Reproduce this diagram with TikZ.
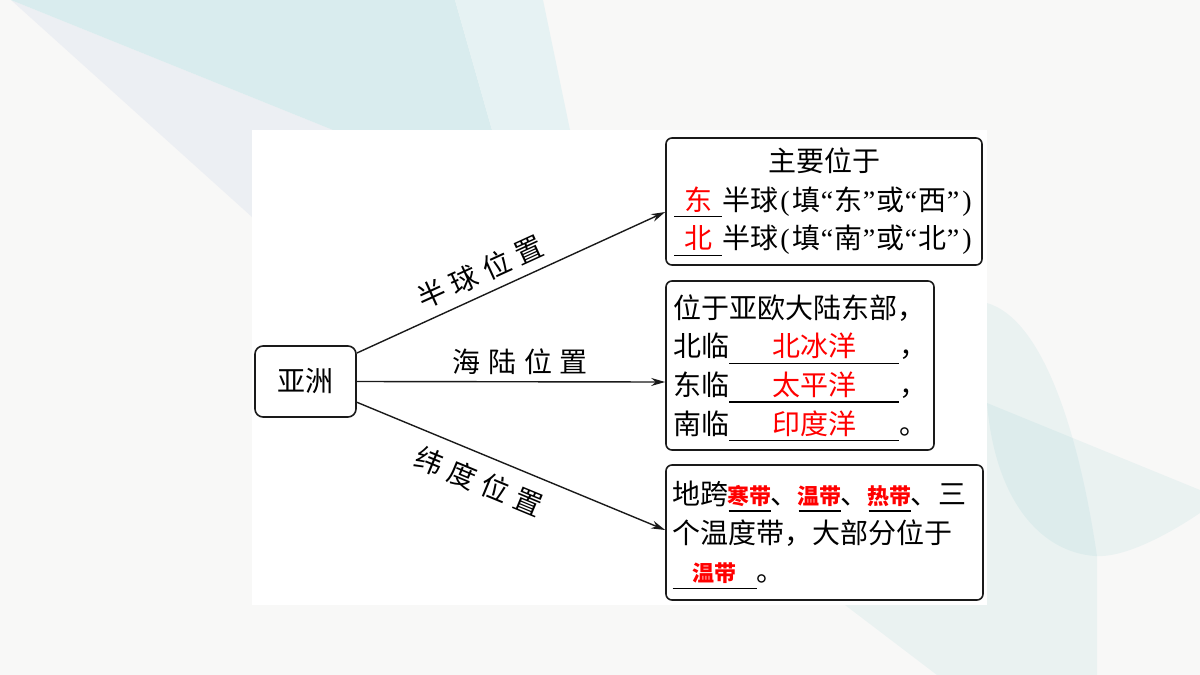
\documentclass[tikz,border=0pt]{standalone}
\usepackage{fontspec}
\setmainfont{Noto Sans CJK SC}
\newfontfamily\lat{Liberation Serif}
\usetikzlibrary{arrows.meta,calc}

\definecolor{bgbase}{HTML}{F8F8F7}
\definecolor{bgteal}{HTML}{D9ECEE}
\definecolor{bglight}{HTML}{E6F2F3}
\definecolor{bglav}{HTML}{ECEFF3}
\definecolor{seafoam}{RGB}{95,184,190}
\definecolor{ink}{HTML}{1A1A1A}

% blank with red answer
\newcommand\fillin[2]{\leavevmode\rlap{\raisebox{-3.5pt}[0pt][0pt]{\rule{#1}{0.6pt}}}\makebox[#1]{\color{red}#2}}
\newcommand\nar[1]{\makebox[7pt]{\lat #1}}
\newcommand\smallred{\bfseries\fontsize{11}{11}\selectfont}
\newcommand\gap{\hspace{3.8pt}}

\begin{document}
\begin{tikzpicture}[x=0.5pt,y=-0.5pt,
    font=\fontsize{14}{19.3}\selectfont,
    box/.style={draw=ink,line width=0.8pt,rounded corners=3pt,inner sep=0pt},
    arr/.style={draw=ink,line width=0.7pt,-{Stealth[length=7pt,width=4pt]}}]
        \useasboundingbox (0,0) rectangle (1200,675);

        % Background
        \fill[bgbase] (0,0) rectangle (1200,675);
        \fill[bglav] (11,0) -- (252,217) -- (252,130) -- (333,130) -- cycle;
        \fill[bgteal] (11,0) -- (333,130) -- (492,130) -- (455,0) -- cycle;
        \fill[bglight] (455,0) -- (492,130) -- (570,130) -- (543,0) -- cycle;
        \fill[seafoam,opacity=0.09] (987,303) .. controls (1045,320) and (1080,440) .. (1097,556)
            -- (1097,675) -- (937,675) -- (845,605) -- (987,605) -- cycle;
        \fill[seafoam,opacity=0.09] (987,403) -- (1200,490) -- (1200,513)
            .. controls (1160,540) and (1120,558) .. (1095,556)
            .. controls (1040,552) and (995,500) .. (987,403) -- cycle;

        % Panel
        \fill[white] (252,130) rectangle (987,605);

        % Boxes
        \node[box,minimum width=50.5pt,minimum height=35.5pt,rounded corners=4pt] (asia) at (305.5,381.5) {亚洲};

        \node[box,minimum width=158pt,minimum height=63.5pt,text width=152pt,align=center] (hemi) at (824,201.5) {%
            主要位于\\
            \fillin{24pt}{东}半球\nar{(}填\nar{“}东\nar{”}或\nar{“}西\nar{”}\nar{)}\\
            \fillin{24pt}{北}半球\nar{(}填\nar{“}南\nar{”}或\nar{“}北\nar{”}\nar{)}};

        \node[box,minimum width=134pt,minimum height=84.5pt,text width=127pt,align=left] (sea) at (800,365.5) {%
            位于亚欧大陆东部，\\
            北临\fillin{85pt}{北冰洋}，\\
            东临\fillin{85pt}{太平洋}，\\
            南临\fillin{85pt}{印度洋}。};

        \node[box,minimum width=158.5pt,minimum height=67.5pt,text width=152pt,align=left] (zone) at (824.5,532.5) {%
            地跨\fillin{21pt}{\smallred 寒带}、\fillin{21pt}{\smallred 温带}、\fillin{21pt}{\smallred 热带}、三\\
            个温度带，大部分位于\\
            \fillin{42pt}{\smallred 温带}。};

        % Arrows
        \draw[arr] (asia.29) -- ($(hemi.west)+(0,10.5)$) node[sloped,above=1pt,pos=0.43] {半\gap 球\gap 位\gap 置};
        \draw[arr] (asia.east) -- ($(sea.west)+(0,16.5)$) node[above,pos=0.53] {海\gap 陆\gap 位\gap 置};
        \draw[arr] (asia.-22) -- ($(zone.west)+(0,-2.5)$) node[sloped,below=3pt,pos=0.43] {纬\gap 度\gap 位\gap 置};
\end{tikzpicture}
\end{document}
